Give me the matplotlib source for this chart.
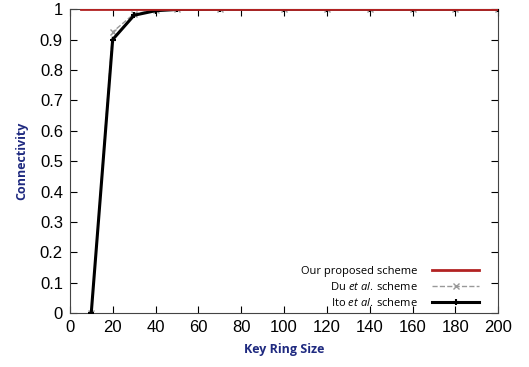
import numpy as np
import matplotlib.pyplot as plt

plt.rcParams['mathtext.fontset'] = 'custom'
plt.rcParams['mathtext.rm'] = 'Open Sans'
plt.rcParams['mathtext.it'] = 'Open Sans:italic'

# data
x_ours = [5, 10, 20, 30, 40, 50, 70, 100, 120, 140, 160, 180, 200]
y_ours = [1, 1, 1, 1, 1, 1, 1, 1, 1, 1, 1, 1, 1]

x_du = [10, 20, 30, 40, 50, 70, 100, 120, 140, 160, 180, 200]
y_du = [0.0, 0.925, 0.985, 0.997, 1.0, 1.0, 1.0, 1.0, 1.0, 1.0, 1.0, 1.0]

x_ito = [10, 20, 30, 40, 50, 70, 100, 120, 140, 160, 180, 200]
y_ito = [0.0, 0.9, 0.98, 0.995, 0.999, 1.0, 1.0, 1.0, 1.0, 1.0, 1.0, 1.0]

xticks = np.arange(0, 201, 20)
yticks = np.arange(0, 1.01, 0.1)

fig = plt.figure(figsize=(5.29, 3.67), dpi=100)
ax = fig.add_axes([0.132, 0.147, 0.810, 0.828])

ax.plot(x_ours, y_ours, color='#B22222', lw=2, label='Our proposed scheme', zorder=4)
ax.plot(x_du, y_du, color='#999999', lw=1, ls='--', marker='x', ms=5,
        label='$\\mathrm{Du}\\ \\mathit{et\\ al.}\\,\\mathrm{scheme}$', zorder=3)
ax.plot(x_ito, y_ito, color='black', lw=2.2, marker='+', ms=5, mew=1.5,
        label='$\\mathrm{Ito}\\ \\mathit{et\\ al.}\\,\\mathrm{scheme}$', zorder=3)

ax.set_xlim(0, 200)
ax.set_ylim(0, 1)
ax.set_xticks(xticks)
ax.set_yticks(yticks)
ax.set_yticklabels(['0', '0.1', '0.2', '0.3', '0.4', '0.5', '0.6', '0.7', '0.8', '0.9', '1'])
ax.tick_params(direction='in', top=True, right=True, length=5, labelsize=12, pad=5)
for lab in ax.get_xticklabels() + ax.get_yticklabels():
    lab.set_family('Liberation Sans')
for s in ax.spines.values():
    s.set_color('#444444')

ax.set_xlabel('Key Ring Size', color='#1F2A80', fontweight='bold', fontsize=9,
              family='Open Sans', labelpad=6)
ax.set_ylabel('Connectivity', color='#1F2A80', fontweight='bold', fontsize=9,
              family='Open Sans', labelpad=8)

leg = ax.legend(loc='lower right', bbox_to_anchor=(0.965, 0.0), borderaxespad=0,
                frameon=False, markerfirst=False, handlelength=4.2,
                handletextpad=1.3, labelspacing=0.35,
                prop={'family': 'Open Sans', 'size': 8})

fig.savefig('out.png', dpi=100)
